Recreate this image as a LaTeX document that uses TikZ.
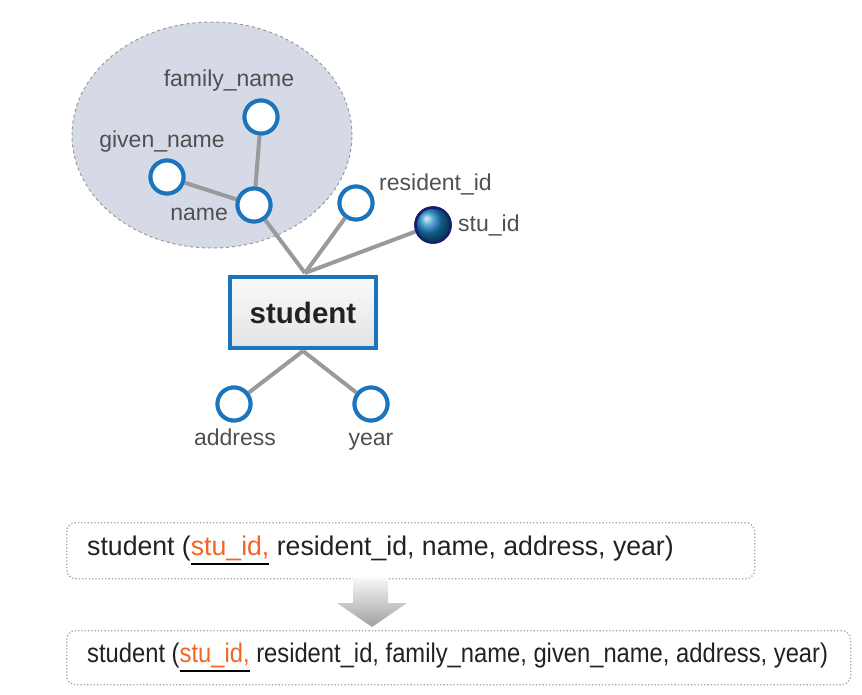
\documentclass[tikz,border=0pt]{standalone}
\usepackage{fontspec}
\setmainfont{Liberation Sans}
\usetikzlibrary{shapes.geometric}
\definecolor{attrblue}{HTML}{1C75BC}
\definecolor{linegray}{HTML}{9A9A9A}
\definecolor{lblgray}{HTML}{505050}
\definecolor{txtdark}{HTML}{222222}
\definecolor{keyorange}{HTML}{F26522}
\definecolor{grpfill}{HTML}{D6DAE6}
\definecolor{navy}{HTML}{14206E}
\newcommand\keyul[1]{\setbox0\hbox{#1}\rlap{\color{black}\rule[-10pt]{\wd0}{1.6pt}}\box0}
\tikzset{
  attr/.style={circle, draw=attrblue, line width=4pt, fill=white, minimum size=33pt, inner sep=0pt},
  keyattr/.style={circle, draw=navy, line width=2.5pt, shading=ball, ball color=attrblue!90!cyan, minimum size=35pt, inner sep=0pt},
  lbl/.style={inner sep=0pt, text=lblgray, font=\fontsize{23}{27}\selectfont},
  conn/.style={draw=linegray, line width=4pt},
  entity/.style={rectangle, draw=attrblue, line width=4pt, top color=white!96!gray, bottom color=gray!22, minimum width=146pt, minimum height=71pt, inner sep=0pt, text=txtdark, font=\fontsize{29.5}{33}\selectfont\bfseries},
  relbox/.style={rectangle, rounded corners=9pt, draw=gray!70, dotted, line width=1.3pt, inner sep=0pt, anchor=north west},
  reltext/.style={anchor=base west, inner sep=0pt, text=txtdark, font=\fontsize{27}{31}\selectfont}
}
\begin{document}
\begin{tikzpicture}[x=1pt,y=-1pt]
\useasboundingbox (0,0) rectangle (862,694);
% composite group
\node[ellipse, fill=grpfill, draw=gray!80, dashed, line width=1pt, minimum width=280pt, minimum height=226pt] (grp) at (212,135) {};
% junction points
\coordinate (T) at (305,273);
\coordinate (B) at (303,351);
% attributes
\node[attr] (fam) at (261,117) {};
\node[attr] (giv) at (167,177) {};
\node[attr] (nam) at (254,205) {};
\node[attr] (res) at (356,203) {};
\node[keyattr] (sid) at (433,225) {};
\node[attr] (adr) at (234,404) {};
\node[attr] (yr) at (371,404) {};
\node[entity] (stu) at (303,312.5) {student};
% connectors
\path[conn] (giv) -- (nam.center);
\path[conn] (fam) -- (nam.center);
\path[conn] (nam) -- (T);
\path[conn] (res) -- (T);
\path[conn] (sid) -- (T);
\path[conn] (B) -- (adr);
\path[conn] (B) -- (yr);
% redraw nodes on top
\node[attr] at (fam) {};
\node[attr] at (giv) {};
\node[attr] at (nam) {};
\node[attr] at (res) {};
\node[keyattr] at (sid) {};
\node[attr] at (adr) {};
\node[attr] at (yr) {};
\node[entity] at (stu) {student};
% labels
\node[lbl, anchor=base] (famL) at (229,86) {family\_name};
\node[lbl, anchor=base] (givL) at (162,147) {given\_name};
\node[lbl, anchor=base east] (namL) at (228,220) {name};
\node[lbl, anchor=base west] (resL) at (379,190) {resident\_id};
\node[lbl, anchor=base west] (sidL) at (458,231) {stu\_id};
\node[lbl, anchor=base] (adrL) at (235,445) {address};
\node[lbl, anchor=base] (yrL) at (371,445) {year};
% relation boxes
\node[relbox, minimum width=688pt, minimum height=56pt] (r1) at (66,522) {};
\node[relbox, minimum width=784pt, minimum height=54pt] (r2) at (66,630) {};
\node[reltext] (t1) at (87,555) {\scalebox{0.987}[1]{student (\keyul{\textcolor{keyorange}{stu\_id,}}\ resident\_id, name, address, year)}};
\node[reltext] (t2) at (87,662) {\scalebox{0.88}[1]{student (\keyul{\textcolor{keyorange}{stu\_id,}}\ resident\_id, family\_name, given\_name, address, year)}};
% transition arrow
\shade[top color=white!94!gray, bottom color=gray!75] (353,578) -- (388,578) -- (388,603) -- (407,603) -- (372,627) -- (337,603) -- (353,603) -- cycle;
\end{tikzpicture}
\end{document}
